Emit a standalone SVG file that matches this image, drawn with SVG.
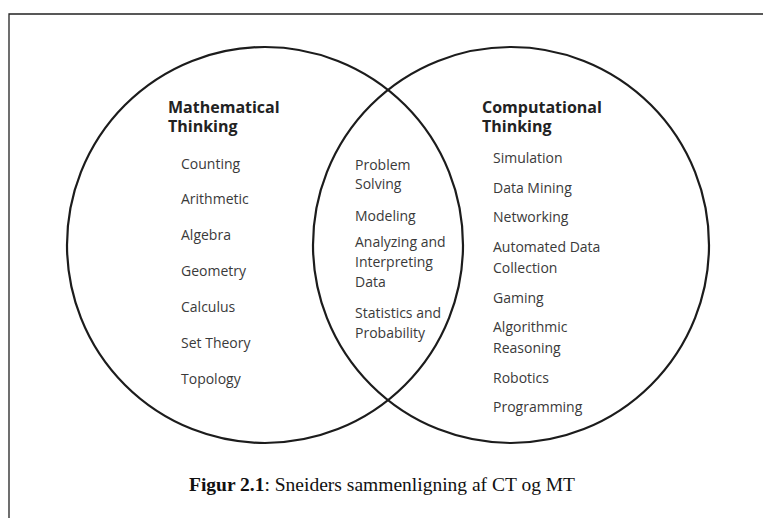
<svg xmlns="http://www.w3.org/2000/svg" width="763" height="518" viewBox="0 0 763 518">
<style>
.frame{fill:none;stroke:#222;stroke-width:1.3}
.circ{fill:none;stroke:#1c1c1c;stroke-width:2.2}
.head{font-family:"Open Sans","Noto Sans",sans-serif;font-weight:700;font-size:16px;fill:#222}
.item{font-family:"Open Sans","Noto Sans",sans-serif;font-size:14px;fill:#3a3a3a}
.cap{font-family:"Liberation Serif","Times New Roman",serif;font-size:19.5px;fill:#111}
</style>
<rect width="763" height="518" fill="#fff"/>
<g id="frame"><path class="frame" d="M9,518 V14 H763"/></g>
<g id="mathematical-thinking">
<circle class="circ" cx="265" cy="245" r="198"/>
<text class="head" x="168" y="113">Mathematical</text>
<text class="head" x="168" y="132">Thinking</text>
<text class="item" x="181" y="169">Counting</text>
<text class="item" x="181" y="204">Arithmetic</text>
<text class="item" x="181" y="240">Algebra</text>
<text class="item" x="181" y="276">Geometry</text>
<text class="item" x="181" y="312">Calculus</text>
<text class="item" x="181" y="348">Set Theory</text>
<text class="item" x="181" y="384">Topology</text>
</g>
<g id="computational-thinking">
<circle class="circ" cx="511" cy="245" r="198"/>
<text class="head" x="482" y="113">Computational</text>
<text class="head" x="482" y="132">Thinking</text>
<text class="item" x="493" y="163">Simulation</text>
<text class="item" x="493" y="193">Data Mining</text>
<text class="item" x="493" y="222">Networking</text>
<text class="item" x="493" y="252">Automated Data</text>
<text class="item" x="493" y="273">Collection</text>
<text class="item" x="493" y="303">Gaming</text>
<text class="item" x="493" y="332">Algorithmic</text>
<text class="item" x="493" y="353">Reasoning</text>
<text class="item" x="493" y="383">Robotics</text>
<text class="item" x="493" y="412">Programming</text>
</g>
<g id="overlap">
<text class="item" x="355" y="170">Problem</text>
<text class="item" x="355" y="189">Solving</text>
<text class="item" x="355" y="221">Modeling</text>
<text class="item" x="355" y="247">Analyzing and</text>
<text class="item" x="355" y="267">Interpreting</text>
<text class="item" x="355" y="287">Data</text>
<text class="item" x="355" y="318">Statistics and</text>
<text class="item" x="355" y="338">Probability</text>
</g>
<g id="connectors"></g>
<g id="caption">
<text class="cap" x="189" y="491"><tspan font-weight="700">Figur 2.1</tspan>: Sneiders sammenligning af CT og MT</text>
</g>
</svg>
